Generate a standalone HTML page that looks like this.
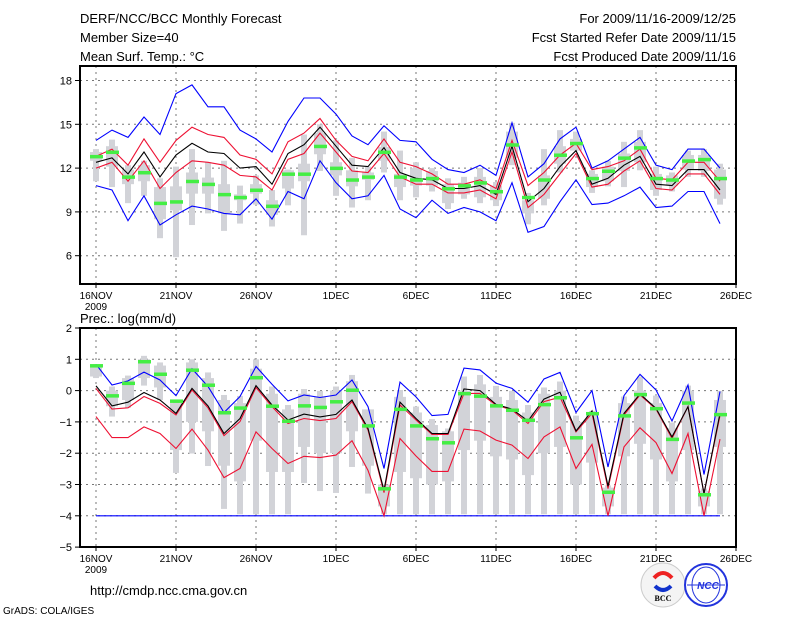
<!DOCTYPE html>
<html><head><meta charset="utf-8"><style>
html,body{margin:0;padding:0;background:#fff;}
svg{display:block;font-family:"Liberation Sans",sans-serif;}
</style></head><body>
<svg id="chart" width="800" height="618" viewBox="0 0 800 618">
<g font-size="13" fill="#000">
<text x="80" y="23">DERF/NCC/BCC Monthly Forecast</text>
<text x="80" y="42">Member Size=40</text>
<text x="80" y="61">Mean Surf. Temp.: °C</text>
<text x="736" y="23" text-anchor="end">For 2009/11/16-2009/12/25</text>
<text x="736" y="42" text-anchor="end">Fcst Started Refer Date 2009/11/15</text>
<text x="736" y="61" text-anchor="end">Fcst Produced Date 2009/11/16</text>
<text x="80" y="323">Prec.: log(mm/d)</text>
<text x="90" y="595">http://cmdp.ncc.cma.gov.cn</text>
<text x="3" y="614" font-size="10">GrADS: COLA/IGES</text>
</g>
<g>
<circle cx="663" cy="585" r="22" fill="#f4f4f4" stroke="#ccc"/>
<path d="M654 578 q9 -10 18 0" stroke="#e22" stroke-width="4" fill="none"/>
<path d="M655 586 q8 8 16 0" stroke="#1133cc" stroke-width="4" fill="none"/>
<text x="663" y="601" font-size="8" text-anchor="middle" font-family="Liberation Serif,serif" font-weight="bold">BCC</text>
</g>
<g>
<circle cx="706" cy="585" r="21" fill="#fff" stroke="#2233dd" stroke-width="2"/>
<ellipse cx="706" cy="585" rx="14" ry="18" fill="none" stroke="#2233dd"/>
<line x1="687" y1="585" x2="725" y2="585" stroke="#2233dd"/>
<text x="708" y="589" font-size="10" text-anchor="middle" font-style="italic" font-weight="bold" fill="#2233dd">NCC</text>
</g>
</svg>
<script>
// ---- data ----
const dates = ["16NOV","21NOV","26NOV","1DEC","6DEC","11DEC","16DEC","21DEC","26DEC"];
const tempTicks = [6,9,12,15,18];
const precTicks = [2,1,0,-1,-2,-3,-4,-5];
const tMax = [13.9,14.6,14.1,15.5,14.3,17.1,17.7,16.2,16.2,14.6,14.0,13.1,15.2,16.8,16.8,15.7,14.2,13.6,14.9,13.9,13.8,12.6,11.9,11.7,12.2,11.5,15.1,11.4,12.3,14.0,14.8,12.0,12.5,13.3,14.1,12.2,11.9,13.3,13.3,12.0];
const tUp = [12.8,13.3,12.2,14.0,12.4,13.9,14.8,14.3,14.1,12.9,12.6,11.6,13.8,14.4,15.4,13.9,12.8,12.5,14.0,12.4,12.1,11.6,10.9,10.9,11.2,10.6,13.9,10.8,11.7,12.9,13.7,11.9,12.1,12.5,13.3,11.3,11.2,12.4,12.4,11.1];
const tMean = [12.4,12.7,11.6,13.1,11.4,12.9,13.7,13.1,13.0,12.0,12.1,10.9,13.0,13.6,14.8,13.5,12.2,12.1,13.4,11.7,11.3,11.2,10.6,10.6,10.8,10.2,13.5,9.7,10.6,12.1,13.2,10.9,11.3,12.2,12.8,10.9,10.8,11.9,11.9,10.5];
const tLow = [12.0,12.4,11.1,12.5,10.6,11.7,12.5,12.4,12.2,11.5,11.4,10.5,12.6,13.0,14.4,13.1,11.8,11.7,13.0,11.4,10.9,10.9,10.3,10.3,10.5,9.9,13.1,9.3,10.2,11.6,13.0,10.7,10.9,11.8,12.5,10.6,10.5,11.6,11.6,10.2];
const tMin = [10.8,10.5,8.4,10.1,8.1,8.8,9.4,9.2,8.9,8.8,9.9,8.5,10.4,9.9,12.5,11.0,9.9,10.1,11.5,9.2,8.6,9.8,8.9,9.3,9.0,8.4,11.0,7.6,8.0,9.7,11.2,9.5,9.6,10.1,10.7,9.3,9.4,10.4,10.4,8.2];
const tObs = [12.8,13.1,11.4,11.7,9.6,9.7,11.1,10.9,10.2,10.0,10.5,9.4,11.6,11.6,13.5,12.0,11.2,11.4,13.1,11.4,11.2,11.3,10.6,10.8,11.0,10.4,13.6,10.0,11.2,12.9,13.7,11.3,11.8,12.7,13.4,11.3,11.2,12.5,12.6,11.3];
const tBoxHi = [13.3,13.95,12.2,12.5,11.3,12.1,13.3,12.4,12.5,10.8,11.5,10.5,11.9,14.3,15.0,13.9,12.7,12.1,14.5,13.2,12.4,12.0,11.3,11.4,12.0,11.05,15.1,10.3,13.3,14.6,14.5,11.85,12.5,13.8,14.6,12.1,11.7,13.2,13.3,12.3];
const tBoxQ3 = [13.1,13.5,11.9,12.2,10.7,10.75,11.7,11.35,10.9,10.2,10.9,9.8,11.85,12.3,14.4,12.4,11.85,11.7,13.45,11.6,12.0,11.8,10.9,11.0,11.4,10.8,14.5,9.8,11.5,13.5,14.0,11.6,12.1,13.0,13.8,11.6,11.5,12.9,12.9,11.9];
const tBoxQ1 = [12.5,12.1,10.9,11.1,8.5,9.1,10.25,10.25,8.9,9.8,10.25,8.8,10.6,11.1,12.95,11.5,10.75,11.2,12.5,10.7,10.8,10.8,9.6,10.2,10.0,9.8,12.7,8.9,9.9,12.3,13.2,10.7,11.1,11.8,12.4,10.5,10.8,11.9,11.8,9.9];
const tBoxLo = [11.1,10.7,9.6,10.1,7.2,5.9,8.1,8.9,7.7,8.2,9.5,8.0,9.45,7.4,11.8,10.1,9.3,9.8,11.7,9.8,10.0,10.4,9.2,9.9,9.6,9.4,12.2,8.15,9.45,11.7,13.2,10.3,10.75,10.7,11.85,10.1,10.4,11.4,11.4,9.5];
const pMax = [0.84,0.18,0.31,0.59,0.34,-0.16,0.70,0.13,-0.70,-0.19,0.77,0.20,-0.33,-0.14,-0.22,-0.14,0.34,-0.51,-2.49,0.27,-0.20,-0.80,-0.76,0.72,0.66,0.24,0.07,-0.37,0.37,0.58,-0.70,0.00,-2.44,-0.16,0.52,0.02,-0.97,0.18,-2.68,-0.03];
const pMean = [0.15,-0.49,-0.37,-0.06,-0.30,-0.73,0.07,-0.49,-1.37,-0.89,0.16,-0.46,-0.94,-0.75,-0.84,-0.76,-0.30,-1.21,-3.19,-0.37,-0.89,-1.37,-1.37,0.05,0.00,-0.44,-0.59,-0.97,-0.27,-0.05,-1.29,-0.65,-3.05,-0.73,-0.11,-0.57,-1.48,-0.51,-3.29,-0.73];
const pUp = [0.07,-0.59,-0.55,-0.19,-0.41,-0.78,0.02,-0.55,-1.44,-0.99,0.10,-0.51,-1.05,-0.89,-0.96,-0.89,-0.35,-1.26,-3.26,-0.46,-0.94,-1.40,-1.40,-0.09,-0.09,-0.46,-0.62,-1.05,-0.35,-0.21,-1.32,-0.73,-3.13,-0.78,-0.14,-0.59,-1.53,-0.51,-3.29,-0.80];
const pLow = [-0.83,-1.50,-1.50,-1.16,-1.37,-1.85,-1.23,-1.90,-2.78,-2.49,-1.32,-1.85,-2.33,-2.10,-2.14,-2.06,-1.60,-2.55,-4.0,-1.53,-2.09,-2.58,-2.58,-1.23,-1.29,-1.58,-1.74,-2.17,-1.48,-1.16,-2.49,-1.72,-4.0,-1.80,-1.19,-1.66,-2.65,-1.37,-4.0,-1.55];
const pMin = [-4,-4,-4,-4,-4,-4,-4,-4,-4,-4,-4,-4,-4,-4,-4,-4,-4,-4,-4,-4,-4,-4,-4,-4,-4,-4,-4,-4,-4,-4,-4,-4,-4,-4,-4,-4,-4,-4,-4,-4];
const pObs = [0.80,-0.16,0.24,0.93,0.53,-0.33,0.66,0.18,-0.70,-0.55,0.42,-0.49,-0.97,-0.48,-0.53,-0.35,0.02,-1.12,-3.13,-0.59,-1.12,-1.53,-1.66,-0.09,-0.17,-0.48,-0.62,-0.94,-0.44,-0.22,-1.50,-0.73,-3.24,-0.80,-0.12,-0.57,-1.55,-0.39,-3.32,-0.76];
const pBoxHi = [0.84,0.13,0.48,1.11,0.90,-0.30,1.00,0.58,-0.14,-0.17,1.00,0.13,-0.46,0.05,-0.01,0.13,0.50,-1.00,-3.08,0.02,-0.51,-0.91,-1.21,0.45,0.50,0.15,-0.01,-0.46,0.10,0.29,-0.80,-0.65,-3.03,-0.19,0.45,-0.16,-1.02,0.16,-3.13,-0.01];
const pBoxQ3 = [0.80,0.00,0.40,1.00,0.80,-0.40,0.90,0.40,-0.30,-0.40,0.70,-0.10,-0.60,-0.10,-0.20,0.00,0.30,-0.60,-3.00,-0.20,-0.70,-1.10,-1.30,0.00,0.20,-0.20,-0.30,-0.70,-0.10,0.00,-1.00,-0.80,-3.10,-0.40,0.00,-0.40,-1.20,0.00,-3.20,-0.30];
const pBoxQ1 = [0.45,-0.50,-0.30,0.40,0.10,-1.90,-1.00,-1.30,-2.40,-2.90,-1.60,-2.60,-2.60,-1.80,-2.00,-2.00,-1.30,-2.40,-3.70,-2.60,-2.80,-3.00,-2.90,-1.90,-1.60,-2.10,-2.20,-2.70,-2.00,-1.80,-3.00,-2.30,-3.70,-2.10,-1.70,-2.20,-2.90,-1.90,-3.70,-1.80];
const pBoxLo = [0.40,-0.83,-0.55,0.16,-0.30,-2.63,-2.01,-2.41,-3.78,-3.95,-3.95,-3.95,-3.95,-2.95,-3.21,-3.27,-2.44,-3.29,-3.95,-3.95,-3.95,-3.95,-3.95,-3.95,-3.95,-3.95,-3.95,-3.95,-3.95,-3.95,-3.95,-3.95,-3.95,-3.95,-3.95,-3.95,-3.95,-3.95,-3.95,-3.95];

// ---- drawing ----
const NS = "http://www.w3.org/2000/svg";
const svg = document.getElementById('chart');
const X0 = 80, X1 = 736;
const xDay = i => 96 + 16 * i;
function mk(tag, attrs, parent) {
  const e = document.createElementNS(NS, tag);
  for (const k in attrs) e.setAttribute(k, attrs[k]);
  parent.appendChild(e);
  return e;
}
function panel(cfg) {
  const g = mk('g', {}, svg);
  
  
  const y = v => cfg.yTop + (cfg.vTop - v) * cfg.ppu;
  // grid
  cfg.ticks.forEach(t => {
    const yy = y(t);
    if (yy > cfg.top + 1 && yy < cfg.bottom - 1) {
      const l = mk('line', {x1: X0, x2: X1, y1: yy, y2: yy, stroke: '#777', 'stroke-dasharray': '2,4'}, g);
      
      
    }
    const tk = mk('line', {x1: X0 - 5, x2: X0, y1: yy, y2: yy, stroke: '#000'}, g);
    
    
    const tx = mk('text', {x: X0 - 8, y: yy + 4, 'text-anchor': 'end', 'font-size': 11}, g);
    tx.textContent = String(t).replace('-', '\u2212');
    
    
  });
  dates.forEach((d, k) => {
    const xx = 96 + 80 * k;
    if (xx < X1 - 1) {
      const l = mk('line', {x1: xx, x2: xx, y1: cfg.top, y2: cfg.bottom, stroke: '#777', 'stroke-dasharray': '2,4'}, g);
      
      
    }
    const tk = mk('line', {x1: xx, x2: xx, y1: cfg.bottom, y2: cfg.bottom + 4, stroke: '#000'}, g);
    
    
    const tx = mk('text', {x: xx, y: cfg.bottom + 15, 'text-anchor': 'middle', 'font-size': 10}, g);
    tx.textContent = d;
    
    
  });
  const yr = mk('text', {x: 96, y: cfg.bottom + 26, 'text-anchor': 'middle', 'font-size': 10}, g);
  yr.textContent = '2009';
  
  
  // boxes
  cfg.lo.forEach((v, i) => {
    const xx = xDay(i);
    const w = mk('rect', {x: xx - 3, y: y(cfg.hi[i]), width: 6, height: Math.max(1, y(v) - y(cfg.hi[i])), fill: '#d2d3d8'}, g);
    
    
    const b = mk('rect', {x: xx - 6, y: y(cfg.q3[i]), width: 12, height: Math.max(1, y(cfg.q1[i]) - y(cfg.q3[i])), fill: '#d2d3d8'}, g);
    
    
  });
  // lines
  cfg.series.forEach(s => {
    const pts = s.data.map((v, i) => xDay(i) + ',' + y(v).toFixed(1)).join(' ');
    const p = mk('polyline', {points: pts, fill: 'none', stroke: s.color, 'stroke-width': 1.1}, g);
    
    
  });
  // observations
  cfg.obs.forEach((v, i) => {
    const r = mk('rect', {x: xDay(i) - 6, y: y(v) - 1.5, width: 13, height: 3.5, fill: '#44ee44'}, g);
    
    
  });
  const f = mk('rect', {x: X0, y: cfg.top, width: X1 - X0, height: cfg.bottom - cfg.top, fill: 'none', stroke: '#000', 'stroke-width': 2}, g);
  
  
}
panel({name: 'temperature-panel', top: 66, bottom: 284, yTop: 80.5, vTop: 18, ppu: 14.6, ticks: tempTicks,
  lo: tBoxLo, q1: tBoxQ1, q3: tBoxQ3, hi: tBoxHi, obs: tObs,
  series: [{name: 'temp-max-line', data: tMax, color: '#0000ff'}, {name: 'temp-min-line', data: tMin, color: '#0000ff'},
           {name: 'temp-upper-line', data: tUp, color: '#ee1133'}, {name: 'temp-lower-line', data: tLow, color: '#ee1133'},
           {name: 'temp-mean-line', data: tMean, color: '#000'}]});
panel({name: 'precipitation-panel', top: 328, bottom: 547, yTop: 328, vTop: 2, ppu: 31.3, ticks: precTicks,
  lo: pBoxLo, q1: pBoxQ1, q3: pBoxQ3, hi: pBoxHi, obs: pObs,
  series: [{name: 'prec-min-line', data: pMin, color: '#0000ff'}, {name: 'prec-max-line', data: pMax, color: '#0000ff'},
           {name: 'prec-upper-line', data: pUp, color: '#ee1133'}, {name: 'prec-lower-line', data: pLow, color: '#ee1133'},
           {name: 'prec-mean-line', data: pMean, color: '#000'}]});
</script>
</body></html>
